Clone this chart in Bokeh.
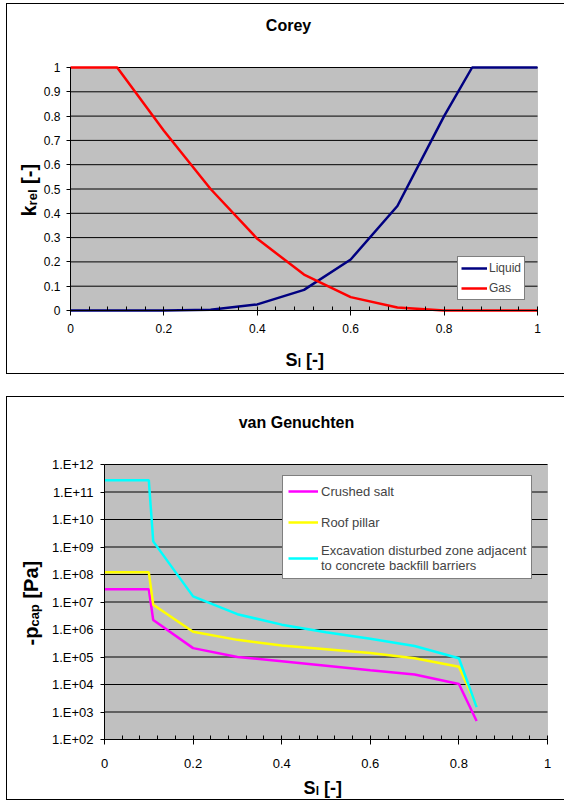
import math
from bokeh.plotting import figure
from bokeh.models import (Label, Legend, LegendItem, FixedTicker, CustomJSTickFormatter,
                          Range1d, Spacer, BoxAnnotation)
from bokeh.layouts import column
from bokeh.embed import file_html
from bokeh.resources import INLINE

# ---------------- data ----------------
# Corey relative permeability
sl_corey = [0.0, 0.1, 0.2, 0.3, 0.4, 0.5, 0.6, 0.7, 0.8, 0.86, 0.9, 1.0]
kr_liquid = [0.0, 0.0, 0.0, 0.003, 0.025, 0.085, 0.21, 0.43, 0.80, 1.0, 1.0, 1.0]
kr_gas = [1.0, 1.0, 0.74, 0.50, 0.295, 0.148, 0.055, 0.012, 0.0, 0.0, 0.0, 0.0]

corey_x_ticks = [0.0, 0.2, 0.4, 0.6, 0.8, 1.0]
corey_x_labels = ["0", "0.2", "0.4", "0.6", "0.8", "1"]
corey_y_ticks = [0.0, 0.1, 0.2, 0.3, 0.4, 0.5, 0.6, 0.7, 0.8, 0.9, 1.0]
corey_y_labels = ["0", "0.1", "0.2", "0.3", "0.4", "0.5", "0.6", "0.7", "0.8", "0.9", "1"]

# van Genuchten capillary pressure
sl_vg = [0.0, 0.1, 0.11, 0.2, 0.3, 0.4, 0.5, 0.6, 0.7, 0.8, 0.84]
pcap_salt = [2.9e7, 2.9e7, 2.2e6, 2.1e5, 1.0e5, 7.0e4, 4.8e4, 3.3e4, 2.3e4, 1.05e4, 4.7e2]
pcap_pillar = [1.2e8, 1.2e8, 8.0e6, 8.3e5, 4.2e5, 2.6e5, 1.9e5, 1.4e5, 9.0e4, 4.4e4, 1.7e3]
pcap_edz = [2.7e11, 2.7e11, 1.6e9, 1.6e7, 3.6e6, 1.5e6, 8.0e5, 4.6e5, 2.5e5, 9.0e4, 1.5e3]

vg_x_ticks = [0.0, 0.2, 0.4, 0.6, 0.8, 1.0]
vg_x_labels = ["0", "0.2", "0.4", "0.6", "0.8", "1"]
vg_y_ticks = [1e2, 1e3, 1e4, 1e5, 1e6, 1e7, 1e8, 1e9, 1e10, 1e11, 1e12]
vg_y_labels = ["1.E+02", "1.E+03", "1.E+04", "1.E+05", "1.E+06", "1.E+07",
               "1.E+08", "1.E+09", "1.E+10", "1.E+11", "1.E+12"]

legend_corey = ["Liquid", "Gas"]
legend_vg = ["Crushed salt", "Roof pillar",
             "Excavation disturbed zone adjacent\nto concrete backfill barriers"]

FONT = "Liberation Sans"
GRAY = "#C0C0C0"
W = 558            # canvas width of each chart box
H1, H2 = 371, 404  # canvas heights
A = math.pi / 2


def fmt(tick_vals, label_vals, log=False):
    code = """
    let best = 0, d = Infinity;
    for (let i = 0; i < tv.length; i++) {
        const a = LOG ? Math.log10(tv[i]) : tv[i];
        const b = LOG ? Math.log10(tick) : tick;
        const e = Math.abs(a - b);
        if (e < d) { d = e; best = i; }
    }
    return lv[best];
    """.replace("LOG", "true" if log else "false")
    return CustomJSTickFormatter(args=dict(tv=tick_vals, lv=label_vals), code=code)


def add_text(p, x, y, text, size, angle=0.0, align="left", baseline="middle", bold=True):
    p.add_layout(Label(x=x, y=y, x_units="screen", y_units="screen", text=text,
                       angle=angle, text_align=align, text_baseline=baseline,
                       text_font=FONT, text_font_size=size,
                       text_font_style="bold" if bold else "normal", text_color="black"))


def make_fig(h, xr, yr, log=False):
    p = figure(width=W, height=h, output_backend="svg", toolbar_location=None,
               x_range=xr, y_range=yr, y_axis_type="log" if log else "linear",
               min_border=0, min_border_left=0, min_border_right=0,
               min_border_top=0, min_border_bottom=0)
    p.styles = {"border-left": "1px solid black", "border-top": "1px solid black",
                "border-bottom": "1px solid black"}
    p.background_fill_color = "white"
    p.border_fill_color = "white"
    p.outline_line_color = None
    p.xgrid.visible = False
    p.ygrid.visible = False
    return p


def style_axes(p, tick_size, x0, y0, xb, yb):
    xa, ya = p.xaxis[0], p.yaxis[0]
    xa.fixed_location = y0
    ya.fixed_location = x0
    xa.bounds = xb
    ya.bounds = yb
    for ax in (xa, ya):
        ax.axis_line_color = "black"
        ax.major_tick_line_color = "black"
        ax.minor_tick_line_color = "black"
        ax.major_label_text_font = FONT
        ax.major_label_text_font_size = tick_size
        ax.major_label_text_color = "black"
    xa.major_tick_in = 3
    xa.major_tick_out = 5
    xa.minor_tick_in = 4
    xa.minor_tick_out = 0
    ya.major_tick_in = 0
    ya.major_tick_out = 4


# ---------------- Corey ----------------
# pixel placement of the plot area inside the canvas (from its left / bottom edge)
c_left, c_right, c_bottom, c_top = 63, 530, 65, 308
cx = 1.0 / (c_right - c_left)
cy = 1.0 / (c_top - c_bottom)
p1 = make_fig(H1, Range1d(-c_left * cx, (W - c_left) * cx),
              Range1d(-c_bottom * cy, (H1 - c_bottom) * cy))
p1.add_layout(BoxAnnotation(left=0, right=1, bottom=0, top=1, fill_color=GRAY, fill_alpha=1.0,
                            line_color="#808080", line_width=1, level="underlay"))
p1.segment(x0=0, x1=1, y0=corey_y_ticks[1:], y1=corey_y_ticks[1:], line_color="black", line_width=1)
style_axes(p1, "12px", 0, 0, (0, 1), (0, 1))
p1.xaxis.ticker = FixedTicker(ticks=corey_x_ticks, minor_ticks=[i * 0.04 for i in range(26)])
p1.xaxis.formatter = fmt(corey_x_ticks, corey_x_labels)
p1.xaxis.major_label_standoff = 8
p1.yaxis.ticker = FixedTicker(ticks=corey_y_ticks, minor_ticks=[])
p1.yaxis.formatter = fmt(corey_y_ticks, corey_y_labels)
p1.yaxis.major_label_standoff = 6

r_liq = p1.line(sl_corey, kr_liquid, line_color="#000080", line_width=2.5)
r_gas = p1.line(sl_corey, kr_gas, line_color="#FF0000", line_width=2.5)

leg1 = Legend(items=[LegendItem(label=legend_corey[0], renderers=[r_liq]),
                     LegendItem(label=legend_corey[1], renderers=[r_gas])],
              location=(450, 75))
leg1.border_line_color = "black"
leg1.border_line_width = 1
leg1.background_fill_color = "white"
leg1.background_fill_alpha = 1.0
leg1.label_text_font = FONT
leg1.label_text_font_size = "12px"
leg1.padding = 3
leg1.spacing = 4
leg1.margin = 0
leg1.glyph_width = 26
leg1.glyph_height = 16
leg1.label_height = 16
leg1.label_standoff = 2
p1.add_layout(leg1)

add_text(p1, 281, 350, "Corey", "16px", align="center")
add_text(p1, 278, 16, "S", "18px")
add_text(p1, 290.3, 13, "l", "12px")
add_text(p1, 298.6, 16, "[-]", "18px")
add_text(p1, 21, 159, "k", "20px", angle=A)
add_text(p1, 25, 170.1, "rel", "13px", angle=A)
add_text(p1, 21, 191.6, "[-]", "20px", angle=A)

# ---------------- van Genuchten ----------------
v_left, v_right, v_bottom, v_top = 97, 540, 62, 337
vx = 1.0 / (v_right - v_left)
dec = (v_top - v_bottom) / 10.0   # pixels per decade
p2 = make_fig(H2, Range1d(-v_left * vx, (W - v_left) * vx),
              Range1d(10 ** (2 - v_bottom / dec), 10 ** (12 + (H2 - v_top) / dec)), log=True)
p2.add_layout(BoxAnnotation(left=0, right=1, bottom=1e2, top=1e12, fill_color=GRAY, fill_alpha=1.0,
                            line_color="#808080", line_width=1, level="underlay"))
p2.segment(x0=0, x1=1, y0=vg_y_ticks[1:], y1=vg_y_ticks[1:], line_color="black", line_width=1)
style_axes(p2, "13px", 0, 1e2, (0, 1), (1e2, 1e12))
p2.xaxis.ticker = FixedTicker(ticks=vg_x_ticks, minor_ticks=[i * 0.04 for i in range(26)])
p2.xaxis.formatter = fmt(vg_x_ticks, vg_x_labels)
p2.xaxis.major_label_standoff = 14
p2.yaxis.ticker = FixedTicker(ticks=vg_y_ticks, minor_ticks=[])
p2.yaxis.formatter = fmt(vg_y_ticks, vg_y_labels, log=True)
p2.yaxis.major_label_standoff = 7

r_salt = p2.line(sl_vg, pcap_salt, line_color="#FF00FF", line_width=2.5)
r_pill = p2.line(sl_vg, pcap_pillar, line_color="#FFFF00", line_width=2.5)
r_edz = p2.line(sl_vg, pcap_edz, line_color="#00FFFF", line_width=2.5)

leg2 = Legend(items=[LegendItem(label=legend_vg[0], renderers=[r_salt]),
                     LegendItem(label=legend_vg[1], renderers=[r_pill]),
                     LegendItem(label=legend_vg[2], renderers=[r_edz])],
              location=(275, 222))
leg2.border_line_color = "black"
leg2.border_line_width = 1
leg2.background_fill_color = "white"
leg2.background_fill_alpha = 1.0
leg2.label_text_font = FONT
leg2.label_text_font_size = "13px"
leg2.padding = 5
leg2.spacing = 11
leg2.margin = 0
leg2.glyph_width = 30
leg2.glyph_height = 20
leg2.label_height = 20
leg2.label_standoff = 3
p2.add_layout(leg2)

add_text(p2, 289, 379, "van Genuchten", "16px", align="center")
add_text(p2, 296, 14, "S", "18px")
add_text(p2, 308.3, 11, "l", "12px")
add_text(p2, 316.6, 14, "[-]", "18px")
add_text(p2, 23, 156, "-p", "20px", angle=A)
add_text(p2, 27, 174.9, "cap", "13px", angle=A)
add_text(p2, 23, 202.9, "[Pa]", "20px", angle=A)

layout = column(p1, Spacer(height=22), p2)
layout.styles = {"margin-left": "6px", "margin-top": "3px"}

open("out.html", "w").write(file_html(layout, INLINE))
